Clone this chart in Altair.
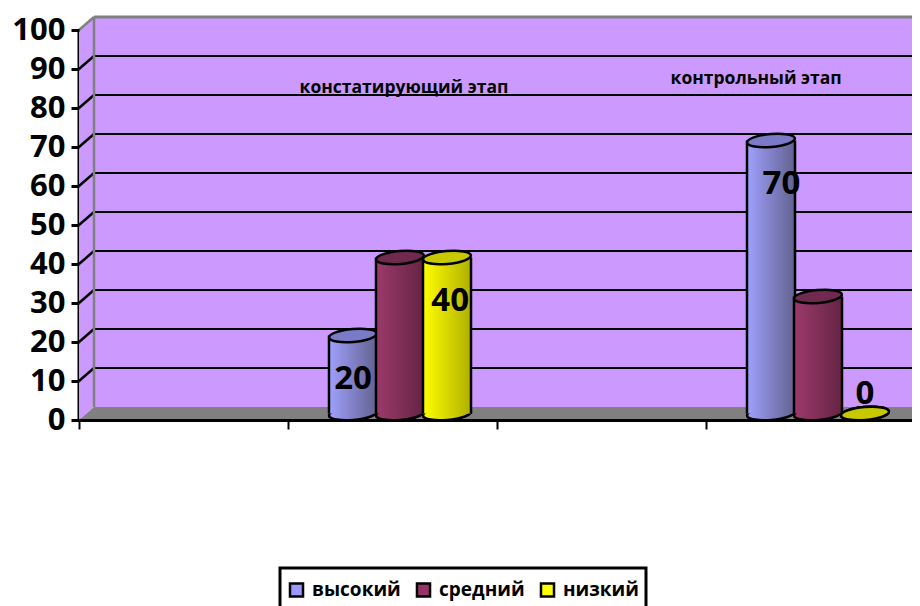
import altair as alt
import pandas as pd

FONT = "Open Sans"
series = ["высокий", "средний", "низкий"]
stage_slots = [1, 3]
values_constating = [20, 40, 40]
values_control = [70, 30, 0]
stage_names = ["констатирующий этап", "контрольный этап"]
stage_heights = [85.2, 87.4]
stage_shift = [0.055, -0.26]
y_ticks = list(range(0, 101, 10))
grid_levels = list(range(10, 100, 10))
x_ticks = [0, 1, 2, 3]
legend_colors = ["#9999ff", "#993366", "#ffff00"]
body_gradients = [("#a0a0ff", "#62628f"), ("#9c3a6c", "#652444"), ("#ffff00", "#b0b000")]
top_colors = ["#7a7ac8", "#702a50", "#c8c800"]

UNIT = 209.0
XMAX = 833.0 / UNIT
DX = 15.0 / UNIT
DY = 13.0 / 3.9
YMAX = 100 + DY
HALF = 24.0 / UNIT
STEP = 47.0 / UNIT

rows = []
for slot, vals in zip(stage_slots, [values_constating, values_control]):
    for i, (s, v) in enumerate(zip(series, vals)):
        rows.append({"series": s, "order": i, "value": v,
                     "cx": slot + 0.5 + DX / 2 + (i - 1) * STEP})
df = pd.DataFrame(rows)
df["left"] = df.cx - HALF
df["right"] = df.cx + HALF
df["base"] = DY / 2
df["top"] = df.value + DY / 2
df["lx"] = df.cx + df.value.map({70: 0.05, 40: 0.015}).fillna(0)
df["ly"] = df.value.map(lambda v: v - 9.4 if v > 0 else v + 6.6)

xs = alt.Scale(domain=[0, XMAX], nice=False, zero=False)
ys = alt.Scale(domain=[0, YMAX], nice=False, zero=False)
X = lambda f: alt.X(f, type="quantitative", scale=xs, title=None)
Y = lambda f: alt.Y(f, type="quantitative", scale=ys, title=None)

ELL = "M-1,0A1,0.27,0,1,1,1,0A1,0.27,0,1,1,-1,0Z"
SIZE = 2304


def grad(a, b):
    return {"gradient": "linear", "x1": 0, "x2": 1, "y1": 0, "y2": 0,
            "stops": [{"offset": 0, "color": a}, {"offset": 1, "color": b}]}


# Axes
axes = alt.Chart(pd.DataFrame({"a": [0], "b": [100]})).mark_rule(color="#000", strokeWidth=3).encode(
    x=alt.X("a:Q", scale=xs, title=None,
            axis=alt.Axis(values=x_ticks, labels=False, tickSize=9, tickWidth=2, tickColor="#000",
                          domainColor="#000", domainWidth=3, grid=False, zindex=1)),
    y=alt.Y("a:Q", scale=ys, title=None,
            axis=alt.Axis(values=y_ticks, tickSize=8, tickWidth=3, tickColor="#000", domain=False,
                          labelFont=FONT, labelFontWeight="bold", labelFontSize=31, labelColor="#000",
                          labelPadding=6, grid=False, zindex=1)),
    y2="b:Q",
)

# Walls
side = alt.Chart(pd.DataFrame({"x": [0, DX], "lo": [0, DY], "hi": [100, YMAX]})).mark_area(
    color="#cc99ff").encode(x=X("x"), y=Y("lo"), y2="hi:Q")
back = alt.Chart(pd.DataFrame({"a": [DX], "b": [XMAX], "lo": [DY], "hi": [YMAX]})).mark_rect(
    color="#cc99ff").encode(x=X("a"), x2="b:Q", y=Y("lo"), y2="hi:Q")
floor = alt.Chart(pd.DataFrame({"x": [0, DX, XMAX], "lo": [0, 0, 0], "hi": [0, DY, DY]})).mark_area(
    color="#808080").encode(x=X("x"), y=Y("lo"), y2="hi:Q")

# Grid
g = pd.DataFrame({"v": grid_levels})
g["vb"] = g.v + DY
g["d"], g["e"] = DX, XMAX
grid_side = alt.layer(*[
    alt.Chart(pd.DataFrame({"x": [0, DX], "y": [v, v + DY]})).mark_line(color="#000", strokeWidth=2.5).encode(
        x=X("x"), y=Y("y")) for v in grid_levels])
grid_back = alt.Chart(g).mark_rule(color="#000", strokeWidth=2).encode(x=X("d"), x2="e:Q", y=Y("vb"))

# Grey wall edges
edge_left = alt.Chart(pd.DataFrame({"a": [DX], "lo": [DY], "hi": [YMAX]})).mark_rule(
    color="#808080", strokeWidth=2.5).encode(x=X("a"), y=Y("lo"), y2="hi:Q")
edge_top = alt.Chart(pd.DataFrame({"a": [DX], "b": [XMAX], "y": [YMAX]})).mark_rule(
    color="#808080", strokeWidth=3).encode(x=X("a"), x2="b:Q", y=Y("y"))
edge_corner = alt.Chart(pd.DataFrame({"x": [0, DX], "y": [100, YMAX]})).mark_line(
    color="#808080", strokeWidth=2.5).encode(x=X("x"), y=Y("y"))

# Legend carrier: flat base ellipses
legend_layer = alt.Chart(df).mark_point(shape=ELL, size=SIZE, filled=True, opacity=1, stroke="#000",
                                         strokeWidth=2.5, angle=355).encode(
    x=X("cx"), y=Y("base"),
    fill=alt.Fill("series:N", scale=alt.Scale(domain=series, range=legend_colors),
                  legend=alt.Legend(title=" ", titleFontSize=1, titlePadding=4,
                                    orient="none", legendX=201, legendY=551,
                                    direction="horizontal", columns=3, symbolType="square", symbolSize=170,
                                    symbolStrokeColor="#000", symbolStrokeWidth=2.5, symbolOpacity=1,
                                    labelFont=FONT, labelFontWeight="bold", labelFontSize=19,
                                    labelColor="#000", columnPadding=10, labelOffset=6, padding=7,
                                    strokeColor="#000", labelLimit=200)),
)

bars = []
for i, s in enumerate(series):
    d = df[df.series == s]
    a, b = body_gradients[i]
    base = alt.Chart(d).mark_point(shape=ELL, size=SIZE, filled=True, fill=grad(a, b), opacity=1, stroke="#000",
                                   strokeWidth=2.5, angle=355).encode(x=X("cx"), y=Y("base"))
    body = alt.Chart(d[d.value > 0]).mark_rect(fill=grad(a, b)).encode(x=X("left"), x2="right:Q", y=Y("base"), y2="top:Q")
    ledge = alt.Chart(d[d.value > 0]).mark_rule(color="#000", strokeWidth=2.5).encode(x=X("left"), y=Y("base"), y2="top:Q")
    redge = alt.Chart(d[d.value > 0]).mark_rule(color="#000", strokeWidth=2.5).encode(x=X("right"), y=Y("base"), y2="top:Q")
    top = alt.Chart(d).mark_point(shape=ELL, size=SIZE, filled=True, fill=top_colors[i], opacity=1, stroke="#000",
                                  strokeWidth=2.5, angle=355).encode(x=X("cx"), y=Y("top"))
    bars += [base, body, ledge, redge, top]

# Labels of the middle series are hidden behind their cylinders in the reference
labels = alt.Chart(df[df.series != series[1]]).mark_text(
    font=FONT, fontWeight="bold", fontSize=33, color="#000", baseline="middle").encode(
    x=X("lx"), y=Y("ly"), text="value:Q")

stage_df = pd.DataFrame({"x": [s + 0.5 + d for s, d in zip(stage_slots, stage_shift)],
                         "y": stage_heights, "t": stage_names})
stage_text = alt.Chart(stage_df).mark_text(font=FONT, fontWeight="bold", fontSize=17.5, color="#000",
                                           baseline="middle").encode(x=X("x"), y=Y("y"), text="t:N")

chart = alt.layer(axes, side, back, floor, grid_side, grid_back, edge_left, edge_top, edge_corner,
                  legend_layer, *bars, labels, stage_text).properties(
    width=833, height=403,
    autosize=alt.AutoSizeParams(type="none"),
    padding={"left": 71, "top": 9, "right": 0, "bottom": 186},
    background="#ffffff",
).configure_view(stroke=None).configure_legend(strokeWidth=3)

chart.save("out.html", embed_options={"renderer": "svg", "actions": False})
